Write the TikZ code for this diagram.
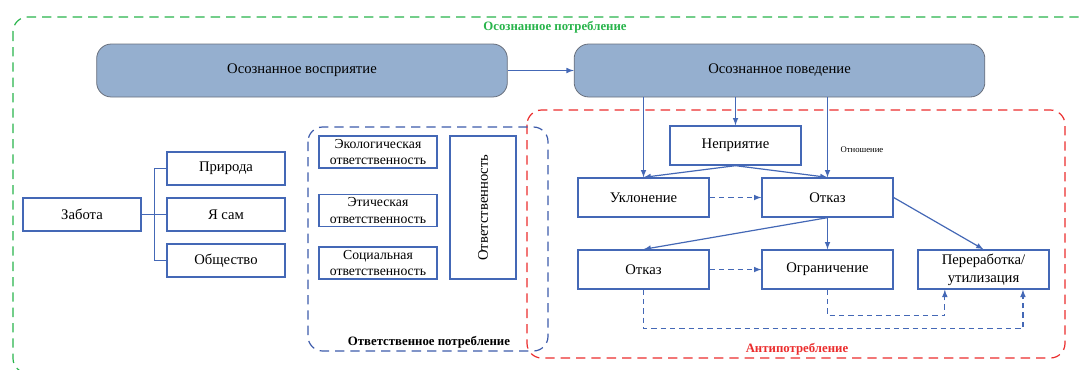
\documentclass[tikz,border=0pt]{standalone}
\usepackage{fontspec}
\setmainfont{Liberation Serif}
\usetikzlibrary{positioning,calc}

\definecolor{boxblue}{RGB}{68,104,182}
\definecolor{topfill}{RGB}{149,175,207}
\definecolor{topline}{RGB}{105,112,125}
\definecolor{areagreen}{RGB}{40,180,75}
\definecolor{areared}{RGB}{235,45,45}
\definecolor{areablue}{RGB}{60,90,170}

\tikzset{
	box/.style={draw=boxblue, line width=1pt, fill=white,
		minimum width=88.5pt, minimum height=24.75pt, inner sep=0.5pt,
		align=center, font=\fontsize{11}{13.5}\selectfont},
	bigbox/.style={box, minimum width=98.25pt, minimum height=29.25pt},
	respbox/.style={box, minimum height=24pt, font=\fontsize{10.3}{12.6}\selectfont},
	topbox/.style={draw=topline, line width=0.6pt, fill=topfill,
		rounded corners=11pt, minimum width=308pt, minimum height=39.75pt,
		font=\fontsize{11}{13.5}\selectfont},
	link/.style={draw=boxblue, line width=0.9pt, -latex},
	dlink/.style={link, dash pattern=on 4pt off 3pt},
	fork/.style={draw=boxblue, line width=0.9pt},
	area/.style={rounded corners=11pt, line width=0.9pt, dash pattern=on 7pt off 4.5pt},
	arealabel/.style={font=\fontsize{9.6}{11}\selectfont\bfseries}
}

\begin{document}
\begin{tikzpicture}[x=0.75pt, y=-0.75pt]
\useasboundingbox (0,0) rectangle (1081,369);

% areas
\draw[area, areagreen] (13,17) rectangle (1096,373);
\draw[area, areared] (527,110) rectangle (1065,358);
\draw[area, areablue] (308,127) rectangle (548,351);

\node[arealabel, text=areagreen] (lconsc) at (555,27) {Осознанное потребление};
\node[arealabel, text=areared] (lanti) at (797,349) {Антипотребление};
\node[arealabel, text=black] (lresp) at (429,342) {Ответственное потребление};

% top row
\node[topbox] (percept) at (302,70.5) {Осознанное восприятие};
\node[topbox] (behav) at (779.5,70.5) {Осознанное поведение};

% care
\node[box] (care) at (82,214.5) {Забота};
\node[box] (nature) at (226,168.5) {Природа};
\node[box] (self) at (226,214.5) {Я сам};
\node[box] (society) at (226,260.5) {Общество};

% responsibility
\node[respbox] (eco) at (378,152) {Экологическая\\ответственность};
\node[respbox] (ethic) at (378,210.5) {Этическая\\ответственность};
\node[respbox] (social) at (378,263) {Социальная\\ответственность};
\node[box, rotate=90, minimum width=107.25pt, minimum height=49.5pt] (resp) at (483,207.5) {Ответственность};

% anti-consumption
\node[bigbox] (reject) at (735.5,145.5) {Неприятие};
\node[bigbox] (avoid) at (643.5,197.5) {Уклонение};
\node[bigbox] (refuse) at (827.5,197.5) {Отказ};
\node[bigbox] (refuse2) at (643.5,269.5) {Отказ};
\node[bigbox] (limit) at (827.5,269.5) {Ограничение};
\node[bigbox] (recycle) at (983.5,269.5) {Переработка/\\утилизация};
\node[font=\fontsize{6.5}{7}\selectfont] (attitude) at (862,150) {Отношение};

% links
\draw[link] (percept) -- (behav);
\draw[link] (behav.south -| avoid.north) -- (avoid.north);
\draw[link] (behav.south -| reject.north) -- (reject.north);
\draw[link] (behav.south -| refuse.north) -- (refuse.north);
\draw[link] (reject.south) -- (avoid.north);
\draw[link] (reject.south) -- (refuse.north);
\draw[dlink] (avoid) -- (refuse);
\draw[link] (refuse.south) -- (refuse2.north);
\draw[link] (refuse.south) -- (limit.north);
\draw[link] (refuse.east) -- (recycle.north);
\draw[dlink] (refuse2) -- (limit);
\draw[dlink] (limit.south) -- ++(0,26) -| ([xshift=-29pt]recycle.south);
\draw[dlink] (refuse2.south) -- ++(0,39) -| ([xshift=29.6pt]recycle.south);

% fork
\draw[fork] (care.east) -- ++(13,0) coordinate (split);
\draw[fork] (split) -- (self.west);
\draw[fork] (split) |- (nature.west);
\draw[fork] (split) |- (society.west);

\end{tikzpicture}
\end{document}
